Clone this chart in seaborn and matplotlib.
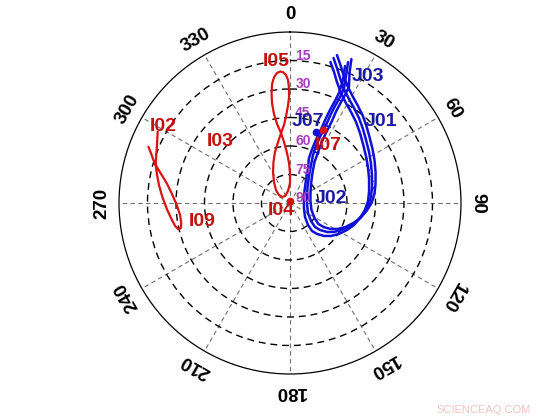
import numpy as np
import pandas as pd
import matplotlib
matplotlib.use("Agg")
import matplotlib.pyplot as plt
import seaborn as sns

# Trayectorias (azimut y elevacion en grados)
i05_az = [352.7, 350.7, 349.8, 349.8, 350.5, 351.4, 352.8, 354.3, 355.7, 356.9, 358.2, 359.1,
          359.5, 359.5, 358.8, 357.4, 355.6, 352.7, 348.9, 343.6, 338.1, 331.3, 322.7, 312.9,
          306.0, 306.9, 324.5, 350.5, 0.0, 0.0, 358.6, 356.6, 354.4, 352.7]
i05_el = [52.9, 47.9, 42.4, 36.5, 31.3, 26.7, 23.2, 21.2, 20.6, 21.0, 22.6, 25.3,
          29.5, 34.2, 38.9, 44.2, 48.8, 52.9, 57.3, 62.0, 66.7, 71.4, 76.1, 79.9,
          82.8, 84.7, 85.5, 83.6, 79.5, 74.2, 68.9, 63.6, 57.7, 52.9]

i02_az = [298.3, 293.6, 288.4, 285.8, 281.9, 277.8, 272.8, 267.5, 262.7, 258.8, 256.8, 257.0,
          259.4, 263.8, 269.0, 274.7, 279.1, 282.3, 284.7, 285.8, 287.5, 289.7, 291.7]
i02_el = [10.9, 13.6, 15.7, 16.5, 18.5, 20.4, 22.7, 25.0, 26.9, 28.3, 29.6, 31.0,
          31.8, 31.8, 30.4, 27.5, 24.3, 20.9, 18.0, 16.5, 14.6, 12.3, 9.8]

j01_az = [16.7, 19.2, 21.8, 25.3, 29.6, 34.0, 39.1, 44.6, 50.3, 57.2, 63.7, 71.1, 79.0, 85.8,
          92.2, 98.6, 105.0, 111.0, 117.4, 123.4, 128.1, 132.0, 133.8, 130.6, 119.1, 93.4, 67.6,
          47.6, 35.1, 28.9, 25.6, 24.5, 24.4, 24.8, 24.7, 24.9, 25.3, 25.3, 23.8, 22.4]
j01_el = [10.3, 14.8, 19.1, 23.6, 27.1, 29.7, 32.4, 35.3, 38.0, 40.5, 42.5, 44.4, 46.0, 47.3,
          48.9, 51.1, 53.5, 56.2, 59.2, 62.3, 65.3, 68.8, 71.8, 75.4, 79.2, 81.0, 80.3,
          77.5, 72.6, 67.1, 62.0, 57.0, 51.8, 43.6, 38.4, 33.7, 28.3, 23.6, 16.9, 9.8]

j02_az = [17.6, 20.1, 22.7, 26.2, 30.3, 34.6, 39.5, 44.8, 50.3, 56.8, 63.0, 70.1, 77.5, 83.9,
          90.0, 96.0, 102.0, 107.5, 113.4, 118.7, 122.7, 125.6, 126.4, 121.5, 108.0, 84.4, 64.0,
          47.9, 36.9, 30.9, 29.0, 27.7, 27.2, 27.1, 26.7, 26.8, 27.0, 26.9, 24.6, 23.1]
j02_el = [8.3, 12.7, 17.0, 21.4, 24.8, 27.4, 30.0, 32.9, 35.6, 38.1, 40.1, 42.1, 43.9, 45.3,
          47.1, 49.5, 52.1, 55.0, 58.2, 61.5, 64.7, 68.3, 71.4, 74.9, 78.1, 79.2, 78.0,
          75.1, 70.3, 64.9, 59.8, 54.8, 49.6, 41.4, 36.2, 31.5, 26.1, 21.4, 14.8, 7.6]

j03_az = [16.0, 18.6, 21.2, 24.9, 29.2, 33.8, 39.2, 45.0, 51.1, 58.3, 65.2, 73.1, 81.4, 88.5,
          95.3, 102.1, 109.0, 115.3, 122.3, 128.8, 134.1, 138.9, 141.8, 140.7, 133.0, 109.7, 77.9,
          50.4, 34.8, 27.9, 23.0, 22.3, 22.3, 22.9, 23.0, 23.3, 23.8, 24.0, 23.3, 21.9]
j03_el = [12.8, 17.3, 21.7, 26.2, 29.7, 32.3, 35.0, 37.9, 40.6, 43.0, 44.8, 46.5, 47.9, 48.9,
          50.4, 52.3, 54.4, 56.8, 59.5, 62.3, 65.1, 68.4, 71.3, 75.0, 79.2, 82.2, 82.5,
          80.1, 75.3, 69.8, 64.6, 59.6, 54.4, 46.2, 41.0, 36.3, 30.9, 26.2, 19.5, 12.3]

# Satelites casi fijos (puntos)
punto_nombre = ["J07", "I07", "I04"]
punto_az = [20.1, 24.3, 0.0]
punto_el = [50.2, 47.8, 89.0]

# Etiquetas de satelites
etq_nombre = ["I05", "I02", "I03", "I09", "I04", "I07", "J07", "J03", "J01", "J02"]
etq_az = [354.4, 301.2, 311.5, 258.4, 232.1, 33.7, 12.5, 31.6, 48.0, 84.4]
etq_el = [14.9, 11.8, 40.8, 42.7, 84.0, 53.9, 46.3, 11.6, 25.5, 68.3]

elev_ticks = [15, 30, 45, 60, 75, 90]
azim_ticks = list(range(0, 360, 30))

rojo_linea = "#DD1111"
rojo_texto = "#C41010"
azul_linea = "#1010DD"
azul_texto = "#1A1AA0"
magenta = "#A83CC0"

sns.set_style("white")
plt.rcParams["font.family"] = ["Liberation Sans", "DejaVu Sans"]

fig = plt.figure(figsize=(5.6, 4.2), dpi=100)
ax = fig.add_axes([0.2125, 0.1095, 0.6107, 0.8143], projection="polar")
ax.set_theta_zero_location("N")
ax.set_theta_direction(-1)

# Trazas
trazas = [(i05_az, i05_el, rojo_linea, 1.6),
          (i02_az, i02_el, rojo_linea, 1.6),
          (j01_az, j01_el, azul_linea, 1.8),
          (j02_az, j02_el, azul_linea, 1.8),
          (j03_az, j03_el, azul_linea, 1.8)]
for az, el, col, lw in trazas:
    df = pd.DataFrame({"theta": np.deg2rad(az), "r": 90 - np.array(el)})
    sns.lineplot(data=df, x="theta", y="r", ax=ax, sort=False, estimator=None,
                 color=col, lw=lw)

for nombre, az, el in zip(punto_nombre, punto_az, punto_el):
    col = azul_linea if nombre.startswith("J") else rojo_linea
    ax.plot(np.deg2rad(az), 90 - el, "o", color=col, ms=4.5)

ax.set_xlabel("")
ax.set_ylabel("")
ax.set_rlim(0, 90)

# Rejilla
ax.set_rticks(elev_ticks[:-1])
ax.set_thetagrids(azim_ticks)
ax.yaxis.grid(True, color="black", linestyle=(0, (5, 3.5)), lw=1.0)
ax.xaxis.grid(True, color="#707070", linestyle=(0, (4, 3)), lw=0.8)
ax.set_xticklabels([])
ax.set_yticklabels([])
ax.spines["polar"].set_linewidth(0.9)
ax.spines["polar"].set_color("black")

# Etiquetas de azimut
for a in azim_ticks:
    ax.text(np.deg2rad(a), 99, str(a), rotation=-a, ha="center", va="center",
            fontsize=13.5, fontweight="bold", color="black", clip_on=False,
            rotation_mode="anchor")

# Etiquetas de elevacion
for e in elev_ticks:
    ax.annotate(str(e), xy=(0, 90 - e), xytext=(13, 5), textcoords="offset pixels",
                ha="center", va="center", fontsize=10, fontweight="bold", color=magenta)

# Nombres de satelites
for nombre, az, el in zip(etq_nombre, etq_az, etq_el):
    col = azul_texto if nombre.startswith("J") else rojo_texto
    ax.text(np.deg2rad(az), 90 - el, nombre, ha="center", va="center",
            fontsize=14, fontweight="bold", color=col)

fig.text(0.948, 0.012, "SCIENCEAQ.COM", ha="right", va="bottom", fontsize=8,
         color="#F2C4C4")

fig.savefig("out.png", dpi=100)
